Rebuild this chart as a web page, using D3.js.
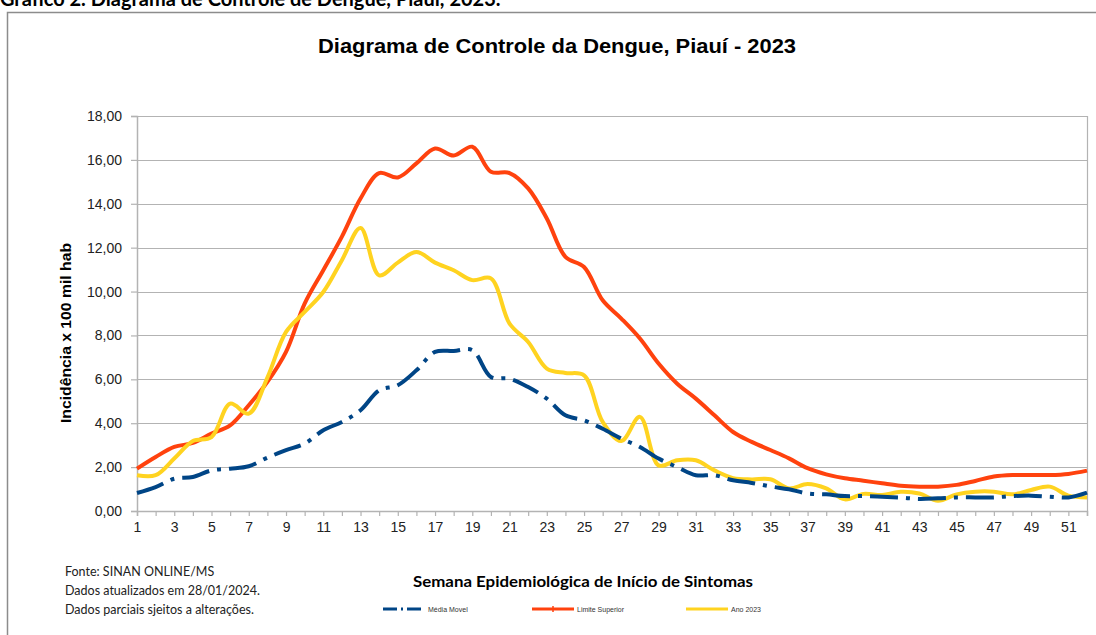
<!DOCTYPE html>
<html>
<head>
<meta charset="utf-8">
<script src="https://cdn.jsdelivr.net/npm/d3@7"></script>
<style>
  body { margin: 0; background: #fff; }
  svg { display: block; }
</style>
</head>
<body>
<div id="container"></div>
<script>
/* DATA */
const weeks = d3.range(1, 53);

const limiteSuperior = [1.93, 2.46, 2.92, 3.10, 3.53, 3.90, 4.82, 5.88, 7.25, 9.45,
  10.97, 12.50, 14.24, 15.40, 15.20, 15.84, 16.52, 16.20, 16.60, 15.46,
  15.40, 14.70, 13.33, 11.58, 11.12, 9.60, 8.77, 7.86, 6.72, 5.80,
  5.12, 4.36, 3.60, 3.15, 2.78, 2.40, 1.95, 1.67, 1.49, 1.38,
  1.26, 1.15, 1.11, 1.11, 1.19, 1.37, 1.57, 1.64, 1.64, 1.64,
  1.69, 1.84];

const ano2023 = [1.63, 1.63, 2.39, 3.19, 3.37, 4.89, 4.44, 6.08, 8.16, 9.07,
  9.98, 11.43, 12.90, 10.74, 11.32, 11.80, 11.32, 10.97, 10.52, 10.60,
  8.54, 7.70, 6.49, 6.29, 6.18, 4.06, 3.19, 4.29, 2.08, 2.31,
  2.31, 1.85, 1.50, 1.44, 1.45, 1.03, 1.23, 1.03, 0.53, 0.78,
  0.73, 0.88, 0.80, 0.47, 0.76, 0.88, 0.88, 0.76, 0.96, 1.11,
  0.70, 0.62];

const mediaMovel = [0.82, 1.09, 1.47, 1.55, 1.85, 1.93, 2.04, 2.43, 2.77, 3.07,
  3.68, 4.06, 4.59, 5.50, 5.73, 6.41, 7.25, 7.29, 7.33, 6.11,
  6.03, 5.65, 5.12, 4.36, 4.13, 3.75, 3.30, 2.92, 2.39, 2.00,
  1.63, 1.63, 1.40, 1.28, 1.12, 0.99, 0.80, 0.76, 0.68, 0.68,
  0.65, 0.61, 0.55, 0.58, 0.62, 0.62, 0.62, 0.68, 0.70, 0.65,
  0.62, 0.84];

const yTicks = [0, 2, 4, 6, 8, 10, 12, 14, 16, 18];
const xLabels = d3.range(1, 53, 2);

const seriesNames = ["Média Movel", "Limite Superior", "Ano 2023"];
const notes = ["Fonte:  SINAN ONLINE/MS", "Dados atualizados em 28/01/2024.", "Dados parciais sjeitos a alterações."];

/* CONSTANTS */
const width = 1096,
  height = 635,
  margin = { top: 116, bottom: 124, left: 137, right: 9 };

const colors = { media: "#004586", limite: "#ff420e", ano: "#ffd320" };
const gridColor = "#b3b3b3";
const arial = "'Liberation Sans', Arial, sans-serif";
const calibri = "Lato, 'Open Sans', sans-serif";

const svg = d3.select("#container")
  .append("svg")
  .attr("width", width)
  .attr("height", height);

/* SCALES */
const xScale = d3.scaleLinear()
  .domain([1, 52])
  .range([margin.left, width - margin.right]);

const yScale = d3.scaleLinear()
  .domain([0, 18])
  .range([height - margin.bottom, margin.top]);

// outer frame (left + top only visible)
svg.append("path")
  .attr("d", `M7.5,${height} V12.5 H${width}`)
  .attr("fill", "none")
  .attr("stroke", "#8c8c8c")
  .attr("stroke-width", 1.5);

// page caption, cut at the top like the source
svg.append("text")
  .attr("x", 0)
  .attr("y", 6)
  .style("font-family", calibri)
  .style("font-weight", "bold")
  .style("font-size", "20px")
  .text("Gráfico 2. Diagrama de Controle de Dengue, Piauí, 2023.");

// chart title
svg.append("text")
  .attr("x", 318)
  .attr("y", 53)
  .attr("textLength", 478)
  .attr("lengthAdjust", "spacingAndGlyphs")
  .style("font-family", arial)
  .style("font-weight", "bold")
  .style("font-size", "20px")
  .text("Diagrama de Controle da Dengue, Piauí - 2023");

/* GRID */
svg.append("g")
  .selectAll("line")
  .data(yTicks)
  .join("line")
  .attr("x1", margin.left)
  .attr("x2", width - margin.right)
  .attr("y1", d => Math.round(yScale(d)) + 0.5)
  .attr("y2", d => Math.round(yScale(d)) + 0.5)
  .attr("stroke", gridColor)
  .attr("stroke-width", 1.2);

// plot border right side
svg.append("line")
  .attr("x1", width - margin.right + 0.5)
  .attr("x2", width - margin.right + 0.5)
  .attr("y1", margin.top)
  .attr("y2", height - margin.bottom)
  .attr("stroke", gridColor)
  .attr("stroke-width", 1.2);

/* AXES */
const yAxis = d3.axisLeft(yScale)
  .tickValues(yTicks)
  .tickFormat(d => d3.format(".2f")(d).replace(".", ","))
  .tickSize(6)
  .tickPadding(9);

const xAxis = d3.axisBottom(xScale)
  .tickValues(weeks)
  .tickFormat(d => xLabels.includes(d) ? d : "")
  .tickSize(5)
  .tickPadding(6);

const gy = svg.append("g")
  .attr("transform", `translate(${margin.left},0)`)
  .call(yAxis);

const gx = svg.append("g")
  .attr("transform", `translate(0,${height - margin.bottom})`)
  .call(xAxis);

[gx, gy].forEach(g => {
  g.select(".domain").attr("stroke", gridColor).attr("stroke-width", 1.5);
  g.selectAll(".tick line").attr("stroke", gridColor).attr("stroke-width", 1.2);
  g.selectAll(".tick text")
    .attr("fill", "#222")
    .style("font-family", arial)
    .style("font-size", "14px");
});

// y axis title
svg.append("text")
  .attr("transform", "rotate(-90)")
  .attr("x", -423)
  .attr("y", 71)
  .attr("textLength", 180)
  .attr("lengthAdjust", "spacingAndGlyphs")
  .style("font-family", arial)
  .style("font-weight", "bold")
  .style("font-size", "15px")
  .text("Incidência x 100 mil hab");

// x axis title
svg.append("text")
  .attr("x", 413)
  .attr("y", 587)
  .attr("textLength", 340)
  .attr("lengthAdjust", "spacingAndGlyphs")
  .style("font-family", calibri)
  .style("font-weight", "bold")
  .style("font-size", "16px")
  .text("Semana Epidemiológica de Início de Sintomas");

/* LINES */
const line = d3.line()
  .x((d, i) => xScale(weeks[i]))
  .y(d => yScale(d))
  .curve(d3.curveCatmullRom.alpha(0.5));

const series = [
  { key: "limite", values: limiteSuperior, dash: null },
  { key: "ano", values: ano2023, dash: null },
  { key: "media", values: mediaMovel, dash: "28 8 4 8" }
];

svg.append("g")
  .selectAll("path")
  .data(series)
  .join("path")
  .attr("d", d => line(d.values))
  .attr("fill", "none")
  .attr("stroke", d => colors[d.key])
  .attr("stroke-width", 4)
  .attr("stroke-linejoin", "round")
  .attr("stroke-dasharray", d => d.dash);

/* NOTES */
svg.append("g")
  .selectAll("text")
  .data(notes)
  .join("text")
  .attr("x", 65)
  .attr("y", (d, i) => 576 + i * 19)
  .style("font-family", calibri)
  .style("font-size", "12.5px")
  .attr("fill", "#222")
  .text(d => d);

/* LEGEND */
const legendX = [383, 532, 686];
const legendKeys = ["media", "limite", "ano"];

const legend = svg.append("g")
  .selectAll("g")
  .data(seriesNames)
  .join("g")
  .attr("transform", (d, i) => `translate(${legendX[i]},609)`);

legend.append("line")
  .attr("x1", 0)
  .attr("x2", 42)
  .attr("stroke", (d, i) => colors[legendKeys[i]])
  .attr("stroke-width", 3)
  .attr("stroke-dasharray", (d, i) => i === 0 ? "14 4 2 4" : null);

legend.filter((d, i) => i === 1)
  .append("path")
  .attr("d", "M21,-3V3M18,0H24")
  .attr("stroke", colors.limite)
  .attr("stroke-width", 1.5);

legend.append("text")
  .attr("x", 45)
  .attr("y", 2.5)
  .style("font-family", arial)
  .style("font-size", "7px")
  .attr("fill", "#333")
  .text(d => d);
</script>
</body>
</html>
